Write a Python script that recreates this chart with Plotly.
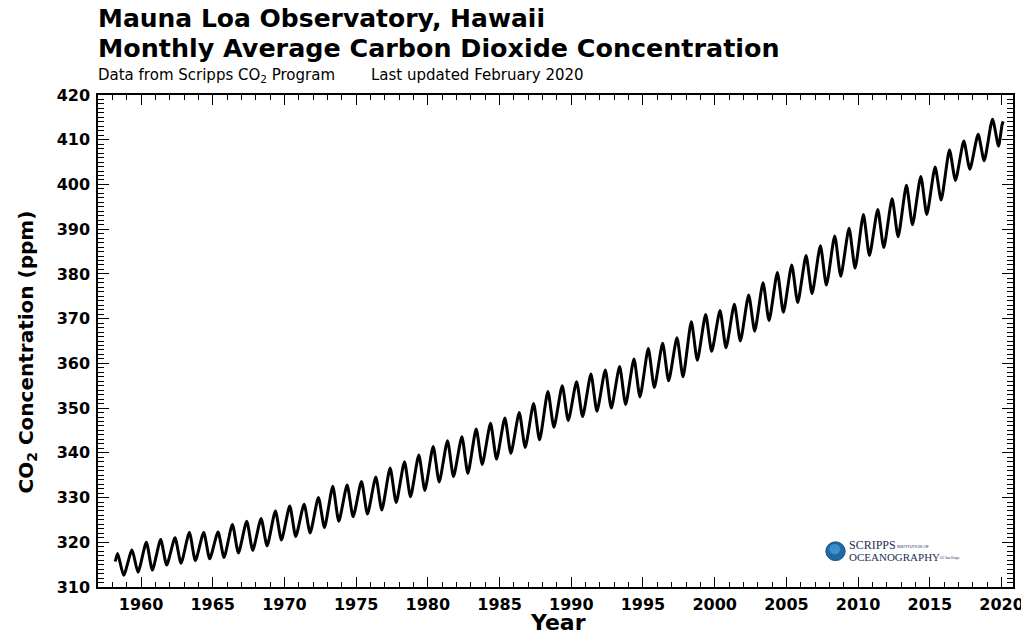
import plotly.graph_objects as go

# ---- data ----
years = list(range(1958, 2020))
peak_ppm = [317.5, 318.3, 320.0, 320.6, 321.0, 322.2, 322.2, 322.3, 324.0, 324.7,
            325.3, 327.0, 328.1, 328.5, 330.0, 332.5, 332.8, 333.6, 334.6, 336.6,
            338.0, 339.5, 341.4, 342.7, 343.6, 345.3, 346.6, 347.8, 349.0, 351.0,
            353.7, 355.0, 355.9, 357.6, 358.5, 359.3, 361.0, 363.3, 364.5, 365.7,
            369.3, 370.9, 371.8, 373.2, 375.3, 378.0, 380.3, 382.0, 384.1, 386.3,
            388.5, 390.2, 393.3, 394.4, 396.8, 399.8, 401.8, 403.9, 407.7, 409.7,
            411.2, 414.6]
trough_ppm = [312.6, 313.3, 313.8, 314.9, 315.3, 315.9, 316.3, 316.6, 317.6, 318.2,
              319.2, 320.5, 321.3, 322.1, 323.3, 324.7, 325.7, 326.3, 327.2, 328.9,
              330.2, 331.6, 333.5, 334.7, 335.4, 337.4, 338.6, 339.9, 341.2, 342.9,
              345.7, 347.2, 348.1, 349.3, 350.0, 350.8, 352.5, 354.6, 356.1, 357.0,
              360.7, 362.7, 363.5, 365.0, 367.2, 369.6, 371.4, 373.6, 375.6, 377.5,
              379.5, 381.3, 384.1, 385.9, 388.3, 391.0, 393.3, 396.5, 400.9, 403.4,
              405.3, 408.6]
start_time = [1958.2]
start_ppm = [315.7]
end_time = [2020.04, 2020.12]
end_ppm = [413.4, 414.1]
peak_month_offset = 0.37   # May
trough_month_offset = 0.79 # October

x_ticks = [1960, 1965, 1970, 1975, 1980, 1985, 1990, 1995, 2000, 2005, 2010, 2015, 2020]
y_ticks = [310, 320, 330, 340, 350, 360, 370, 380, 390, 400, 410, 420]

# build series
xs = list(start_time)
ys = list(start_ppm)
for yr, pk, tr in zip(years, peak_ppm, trough_ppm):
    xs += [yr + peak_month_offset, yr + trough_month_offset]
    ys += [pk, tr]
xs += end_time
ys += end_ppm

fig = go.Figure()
fig.add_trace(go.Scatter(x=xs, y=ys, mode="lines",
                         line=dict(color="black", width=3, shape="spline", smoothing=0.6),
                         hoverinfo="skip", showlegend=False))

FONT = "DejaVu Sans, Verdana, sans-serif"
axis_common = dict(showgrid=False, zeroline=False, showline=True, linecolor="black",
                   linewidth=1.5, mirror="allticks", ticks="inside", tickcolor="black",
                   tickwidth=1.2, ticklabeloverflow="allow", automargin=False,
                   tickfont=dict(family=FONT, size=16, color="black", weight="bold"))

fig.update_xaxes(range=[1957, 2020.8], tickmode="array", tickvals=x_ticks, ticklen=10,
                 ticklabelstandoff=2,
                 minor=dict(dtick=1, tick0=1957, ticks="inside", ticklen=5, tickcolor="black",
                            tickwidth=1.2, showgrid=False),
                 **axis_common)
fig.update_yaxes(range=[310, 420], tickmode="array", tickvals=y_ticks, ticklen=11,
                 ticklabelstandoff=3,
                 minor=dict(dtick=1, tick0=310, ticks="inside", ticklen=6, tickcolor="black",
                            tickwidth=1.2, showgrid=False),
                 **axis_common)

ann = []
ann.append(dict(text="Mauna Loa Observatory, Hawaii", x=-0.002, y=1.155, xref="paper", yref="paper",
                xanchor="left", yanchor="middle", showarrow=False,
                font=dict(family=FONT, size=25, color="black", weight="bold")))
ann.append(dict(text="Monthly Average Carbon Dioxide Concentration", x=-0.002, y=1.096, xref="paper",
                yref="paper", xanchor="left", yanchor="middle", showarrow=False,
                font=dict(family=FONT, size=25.4, color="black", weight="bold")))
ann.append(dict(text="Data from Scripps CO<sub>2</sub> Program", x=-0.002, y=1.040, xref="paper",
                yref="paper", xanchor="left", yanchor="middle", showarrow=False,
                font=dict(family=FONT, size=15, color="black")))
ann.append(dict(text="Last updated February 2020", x=0.296, y=1.040, xref="paper",
                yref="paper", xanchor="left", yanchor="middle", showarrow=False,
                font=dict(family=FONT, size=15, color="black")))
ann.append(dict(text="CO<sub>2</sub> Concentration (ppm)", x=-0.078, y=0.478, xref="paper",
                yref="paper", xanchor="center", yanchor="middle", textangle=-90, showarrow=False,
                font=dict(family=FONT, size=20, color="black", weight="bold")))
ann.append(dict(text="Year", x=0.503, y=-0.072, xref="paper", yref="paper",
                xanchor="center", yanchor="middle", showarrow=False,
                font=dict(family=FONT, size=22, color="black", weight="bold")))
# Scripps logo text
SERIF = "Liberation Serif, Times New Roman, serif"
ann.append(dict(text="SCRIPPS", x=2009.25, y=319.3, xref="x", yref="y", xanchor="left",
                yanchor="middle", showarrow=False, font=dict(family=SERIF, size=12, color="#1d2c4f")))
ann.append(dict(text="INSTITUTION OF", x=2012.6, y=319.0, xref="x", yref="y", xanchor="left",
                yanchor="middle", showarrow=False, font=dict(family="Liberation Sans", size=4, color="#1d2c4f")))
ann.append(dict(text="OCEANOGRAPHY", x=2009.25, y=316.6, xref="x", yref="y", xanchor="left",
                yanchor="middle", showarrow=False, font=dict(family=SERIF, size=11, color="#1d2c4f")))
ann.append(dict(text="UC San Diego", x=2015.6, y=316.4, xref="x", yref="y", xanchor="left",
                yanchor="middle", showarrow=False, font=dict(family="Liberation Sans", size=3, color="#1d2c4f")))

shapes = [
    dict(type="circle", xref="x", yref="y", x0=2007.75, x1=2009.1, y0=315.9, y1=320.1,
         fillcolor="#1f6aa5", line=dict(color="#17507f", width=1)),
    dict(type="circle", xref="x", yref="y", x0=2008.0, x1=2008.75, y0=317.3, y1=319.6,
         fillcolor="#4aa3d8", line=dict(width=0), opacity=0.7),
]

fig.update_layout(width=1021, height=634, plot_bgcolor="white", paper_bgcolor="white",
                  margin=dict(l=98, r=8, t=95, b=47, autoexpand=False),
                  annotations=ann, shapes=shapes,
                  font=dict(family=FONT))

fig.write_html("out.html", config={"displayModeBar": False},
               post_script="document.body.style.margin='0';")
